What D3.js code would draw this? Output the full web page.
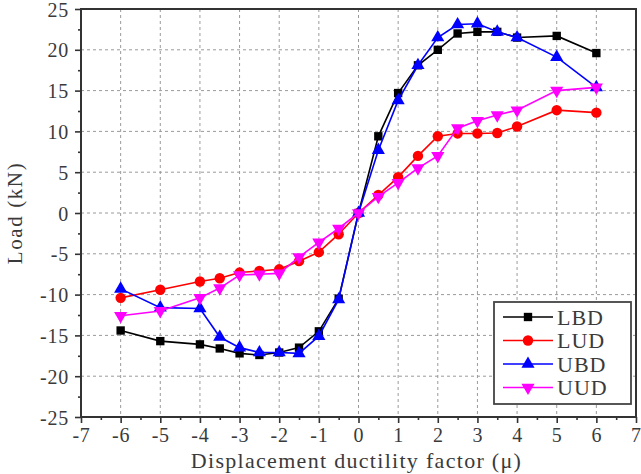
<!DOCTYPE html>
<html>
<head>
<meta charset="utf-8">
<script src="https://cdn.jsdelivr.net/npm/d3@7"></script>
<style>
  body { margin: 0; background: #fff; }
</style>
</head>
<body>
<div id="chart"></div>
<script>
// displacement ductility factor (x) and loads (kN) for each specimen
const mu = [-6, -5, -4, -3.5, -3, -2.5, -2, -1.5, -1, -0.5, 0, 0.5, 1, 1.5, 2, 2.5, 3, 3.5, 4, 5, 6];
const lbd = [-14.4, -15.7, -16.1, -16.6, -17.2, -17.4, -17.1, -16.5, -14.5, -10.5, 0, 9.4, 14.7, 18.1, 20.0, 22.0, 22.2, 22.2, 21.5, 21.7, 19.6];
const lud = [-10.4, -9.4, -8.4, -8.0, -7.3, -7.1, -6.9, -5.9, -4.8, -2.6, 0, 2.2, 4.4, 7.0, 9.4, 9.75, 9.75, 9.8, 10.6, 12.6, 12.3];
const ubd = [-9.3, -11.6, -11.7, -15.2, -16.5, -17.1, -17.1, -17.2, -15.1, -10.6, 0, 7.7, 13.8, 18.1, 21.5, 23.1, 23.2, 22.2, 21.5, 19.1, 15.4];
const uud = [-12.6, -12.0, -10.4, -9.2, -7.6, -7.5, -7.4, -5.4, -3.6, -1.9, 0, 2.0, 3.7, 5.5, 7.0, 10.4, 11.3, 12.0, 12.6, 15.0, 15.4];
const seriesNames = ["LBD", "LUD", "UBD", "UUD"];
const xTicks = [-7, -6, -5, -4, -3, -2, -1, 0, 1, 2, 3, 4, 5, 6, 7];
const yTicks = [-25, -20, -15, -10, -5, 0, 5, 10, 15, 20, 25];

const FONT = "'Liberation Serif', 'DejaVu Serif', serif";
const W = 641, H = 474;
const margin = {top: 9, left: 81, right: 5, bottom: 57};
const width = W - margin.left - margin.right,
      height = H - margin.top - margin.bottom;

const series = [
  {name: seriesNames[0], values: lbd, color: "#000000", shape: d3.symbolSquare, size: 70, rot: 0},
  {name: seriesNames[1], values: lud, color: "#ff0000", shape: d3.symbolCircle, size: 85, rot: 0},
  {name: seriesNames[2], values: ubd, color: "#0000ff", shape: d3.symbolTriangle, size: 75, rot: 0},
  {name: seriesNames[3], values: uud, color: "#ff00ff", shape: d3.symbolTriangle, size: 75, rot: 180}
];

const svg = d3.select("#chart").append("svg")
  .attr("width", W).attr("height", H)
  .attr("font-family", FONT);

const g = svg.append("g").attr("transform", `translate(${margin.left},${margin.top})`);

const x = d3.scaleLinear().domain([-7, 7]).range([0, width]);
const y = d3.scaleLinear().domain([-25, 25]).range([height, 0]);

// grid
g.append("g").selectAll("line").data(xTicks.slice(1, -1)).enter().append("line")
  .attr("x1", d => x(d)).attr("x2", d => x(d))
  .attr("y1", 0).attr("y2", height)
  .attr("stroke", "#9a9a9a").attr("stroke-width", 1).attr("stroke-dasharray", "3,3");
g.append("g").selectAll("line").data(yTicks.slice(1, -1)).enter().append("line")
  .attr("y1", d => y(d)).attr("y2", d => y(d))
  .attr("x1", 0).attr("x2", width)
  .attr("stroke", "#9a9a9a").attr("stroke-width", 1).attr("stroke-dasharray", "3,3");

// axes
const fmt = d => d < 0 ? "-" + Math.abs(d) : d;
const xAxis = g.append("g")
  .attr("transform", `translate(0,${height})`)
  .call(d3.axisBottom(x).tickValues(xTicks).tickFormat(fmt).tickSize(6).tickPadding(5));
const xMinor = g.append("g")
  .attr("transform", `translate(0,${height})`)
  .call(d3.axisBottom(x).tickValues(d3.range(-6.5, 7, 1)).tickSize(3).tickFormat(""));
const yAxis = g.append("g")
  .call(d3.axisLeft(y).tickValues(yTicks).tickFormat(fmt).tickSize(6).tickPadding(6));
const yMinor = g.append("g")
  .call(d3.axisLeft(y).tickValues(d3.range(-22.5, 25, 5)).tickSize(3).tickFormat(""));

[xAxis, xMinor, yAxis, yMinor].forEach(a => {
  a.attr("font-family", FONT).attr("font-size", 20);
  a.select(".domain").remove();
  a.selectAll("line").attr("stroke", "#333").attr("stroke-width", 1.6);
  a.selectAll("text").attr("fill", "#3a3a3a").attr("letter-spacing", 0.8);
});
yAxis.selectAll("text").attr("dy", "0.35em");

// frame
g.append("rect").attr("width", width).attr("height", height)
  .attr("fill", "none").attr("stroke", "#333").attr("stroke-width", 2);

// lines and markers
const line = d3.line().x(d => x(d[0])).y(d => y(d[1]));
series.forEach(s => {
  const pts = mu.map((m, i) => [m, s.values[i]]);
  g.append("path").datum(pts)
    .attr("d", line)
    .attr("fill", "none")
    .attr("stroke", s.color)
    .attr("stroke-width", 1.6);
  g.append("g").selectAll("path").data(pts).enter().append("path")
    .attr("d", d3.symbol().type(s.shape).size(s.size))
    .attr("transform", d => `translate(${x(d[0])},${y(d[1])}) rotate(${s.rot})`)
    .attr("fill", s.color);
});

// axis titles
svg.append("text")
  .attr("x", margin.left + width / 2 - 2).attr("y", 468)
  .attr("text-anchor", "middle")
  .attr("font-size", 22).attr("letter-spacing", 1.3).attr("fill", "#3a3a3a")
  .text("Displacement ductility factor (\u03bc)");
svg.append("text")
  .attr("transform", `translate(22,${margin.top + height / 2}) rotate(-90)`)
  .attr("text-anchor", "middle")
  .attr("font-size", 21).attr("letter-spacing", 1.6).attr("fill", "#3a3a3a")
  .text("Load (kN)");

// legend
const lg = svg.append("g").attr("transform", "translate(494,302)");
lg.append("rect").attr("width", 137).attr("height", 102)
  .attr("fill", "#fff").attr("stroke", "#444").attr("stroke-width", 1.8);
series.forEach((s, i) => {
  const row = lg.append("g").attr("transform", `translate(0,${15 + i * 23.5})`);
  row.append("line").attr("x1", 9).attr("x2", 59).attr("y1", 0).attr("y2", 0)
    .attr("stroke", s.color).attr("stroke-width", 1.6);
  row.append("path")
    .attr("d", d3.symbol().type(s.shape).size(s.size))
    .attr("transform", `translate(34,0) rotate(${s.rot})`)
    .attr("fill", s.color);
  row.append("text").attr("x", 63).attr("y", 0).attr("dy", "0.36em")
    .attr("font-size", 22).attr("letter-spacing", 1).attr("fill", "#3a3a3a")
    .text(s.name);
});
</script>
</body>
</html>
